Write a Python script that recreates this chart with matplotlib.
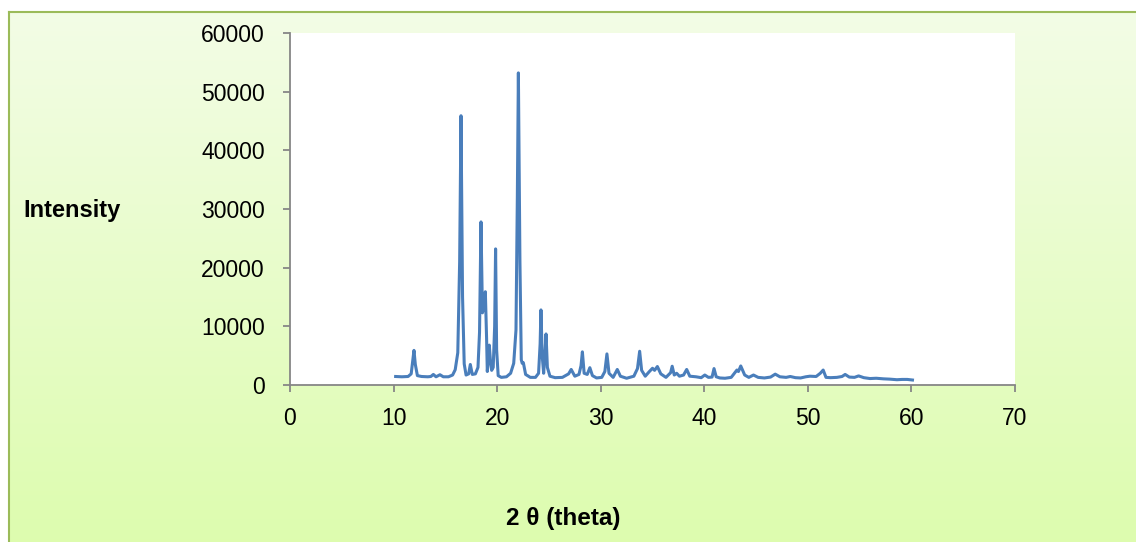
import matplotlib
matplotlib.use("Agg")
import matplotlib.pyplot as plt
import numpy as np

# 2-theta positions and intensities
theta = [10.2, 10.8, 11.4, 11.7, 11.85, 11.97, 12.1, 12.3, 12.7, 13.3,
         13.6, 13.84, 14.1, 14.48, 14.8, 15.3, 15.7, 15.95, 16.2, 16.38,
         16.51, 16.66, 16.82, 17.0, 17.25, 17.41, 17.6, 17.9, 18.15, 18.3,
         18.44, 18.58, 18.68, 18.86, 18.98, 19.05, 19.15, 19.24, 19.36, 19.47,
         19.62, 19.76, 19.85, 19.95, 20.1, 20.4, 20.9, 21.3, 21.6, 21.82,
         21.95, 22.05, 22.2, 22.33, 22.42, 22.53, 22.75, 23.2, 23.7, 24.0,
         24.15, 24.23, 24.35, 24.49, 24.62, 24.72, 24.85, 25.1, 25.6, 26.3,
         26.9, 27.15, 27.5, 27.9, 28.1, 28.23, 28.4, 28.7, 28.95, 29.2,
         29.6, 30.1, 30.4, 30.6, 30.8, 31.2, 31.6, 31.9, 32.5, 33.2,
         33.55, 33.76, 33.95, 34.3, 34.7, 35.0, 35.2, 35.47, 35.8, 36.3,
         36.75, 36.9, 37.1, 37.33, 37.6, 38.0, 38.3, 38.6, 39.2, 39.7,
         40.05, 40.4, 40.75, 40.94, 41.15, 41.5, 42.0, 42.6, 43.0, 43.15,
         43.3, 43.52, 43.9, 44.3, 44.75, 45.2, 45.8, 46.4, 46.85, 47.3,
         47.9, 48.3, 48.8, 49.3, 49.8, 50.2, 50.8, 51.2, 51.48, 51.75,
         52.2, 52.8, 53.3, 53.6, 54.0, 54.5, 54.9, 55.4, 56.0, 56.6,
         57.3, 57.9, 58.6, 59.1, 59.6, 60.1]
intensity = [1450, 1400, 1450, 1900, 4200, 5900, 3500, 1600, 1450, 1400,
             1450, 1800, 1400, 1750, 1400, 1400, 1700, 2600, 5500, 21000,
             45900, 15000, 3600, 1700, 1900, 3500, 1800, 1900, 3000, 9000,
             27800, 12300, 13000, 15900, 8000, 2300, 4500, 6800, 4000, 2500,
             3000, 10000, 23200, 6000, 1600, 1300, 1400, 2000, 3700, 9400,
             32000, 53200, 21000, 4300, 3700, 3800, 1800, 1300, 1300, 2000,
             7000, 12800, 5000, 2000, 5500, 8700, 3000, 1500, 1250, 1300,
             1900, 2650, 1500, 1800, 3300, 5650, 2000, 1800, 2950, 1600,
             1200, 1300, 2300, 5300, 2000, 1300, 2650, 1500, 1150, 1500,
             2800, 5750, 2500, 1500, 2300, 2850, 2500, 3150, 1900, 1300,
             2100, 3200, 1700, 2000, 1500, 1700, 2650, 1500, 1400, 1250,
             1700, 1300, 1350, 2800, 1400, 1200, 1150, 1300, 2200, 2550,
             2300, 3250, 1700, 1300, 1700, 1300, 1200, 1350, 1850, 1400,
             1300, 1450, 1250, 1200, 1400, 1500, 1450, 2000, 2550, 1300,
             1250, 1300, 1450, 1800, 1350, 1300, 1550, 1250, 1100, 1150,
             1050, 1000, 900, 950, 950, 850]

x_ticks = [0, 10, 20, 30, 40, 50, 60, 70]
y_ticks = [0, 10000, 20000, 30000, 40000, 50000, 60000]

plt.rcParams['font.family'] = ['Liberation Sans', 'DejaVu Sans']

W, H = 1136, 542
fig = plt.figure(figsize=(W / 100, H / 100), dpi=100, facecolor='white')

# gradient chart area with green frame (cut off at right/bottom)
bg = fig.add_axes([9 / W, -0.05, 1.1, (H - 12) / H + 0.05])
grad = np.linspace(0, 1, 256).reshape(-1, 1)
top = np.array([243, 253, 230]) / 255
bot = np.array([220, 252, 172]) / 255
img = top[None, None, :] * (1 - grad[:, :, None]) + bot[None, None, :] * grad[:, :, None]
bg.imshow(img, aspect='auto', extent=[0, 1, 0, 1])
bg.set_xticks([])
bg.set_yticks([])
for s in ['right', 'bottom']:
    bg.spines[s].set_visible(False)
for s in ['left', 'top']:
    bg.spines[s].set_color('#9BBB59')
    bg.spines[s].set_linewidth(1.5)

ax = fig.add_axes([290 / W, (H - 385) / H, (1015 - 290) / W, (385 - 33) / H])
ax.set_facecolor('white')
ax.plot(theta, intensity, color='#4A7EBB', lw=2.2, solid_joinstyle='round')
ax.set_xlim(0, 70)
ax.set_ylim(0, 60000)
ax.set_xticks(x_ticks)
ax.set_yticks(y_ticks)
for s in ['top', 'right']:
    ax.spines[s].set_visible(False)
for s in ['left', 'bottom']:
    ax.spines[s].set_color('#868686')
    ax.spines[s].set_linewidth(1.3)
ax.tick_params(axis='both', direction='out', length=5, width=1.3, color='#868686',
               labelsize=16.5, labelcolor='black')
ax.tick_params(axis='y', pad=13)
ax.tick_params(axis='x', pad=11)

fig.text(23 / W, 1 - 211 / H, 'Intensity', fontsize=17, fontweight='bold',
         ha='left', va='center')
fig.text(563 / W, 1 - 518 / H, '2 θ (theta)', fontsize=17.5, fontweight='bold',
         ha='center', va='center')

fig.savefig('out.png', dpi=100, facecolor='white')
